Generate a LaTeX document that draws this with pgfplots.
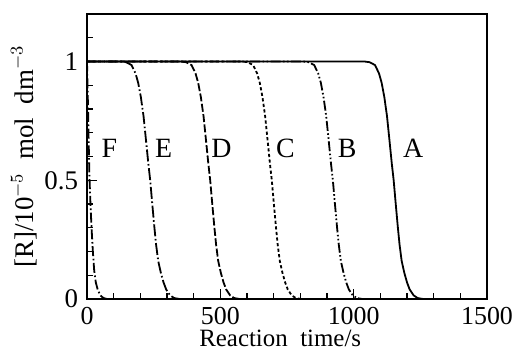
\documentclass[border=0pt]{standalone}
\usepackage{fontspec}
\setmainfont{Liberation Serif}
\usepackage{pgfplots}
\pgfplotsset{compat=1.18}
\begin{document}
\begin{tikzpicture}
\useasboundingbox (-43.5bp,-26bp) rectangle (212.5bp,149.5bp);
\begin{axis}[
  at={(0,0)}, anchor=south west,
  scale only axis, width=200bp, height=142.5bp,
  xmin=0, xmax=1500, ymin=0, ymax=1.2,
  xtick={0,500,1000,1500}, ytick={0,0.5,1},
  minor xtick={100,200,300,400,600,700,800,900,1100,1200,1300,1400},
  minor ytick={0.1,0.2,0.3,0.4,0.6,0.7,0.8,0.9,1.1},
  tick align=inside, xtick pos=bottom, ytick pos=left,
  major tick length=5bp, minor tick length=3bp,
  every tick/.style={black, line width=0.6bp},
  axis line style={line width=0.9bp},
  /pgf/number format/assume math mode=true,
  /pgf/number format/set thousands separator={},
  ticklabel style={font=\fontsize{13.5}{15}\selectfont},
  xticklabel style={inner sep=0bp, anchor=base, yshift=-12.5bp, font=\fontsize{13}{15}\selectfont},
  yticklabel style={/pgf/number format/fixed, xshift=-1bp},
  label style={font=\fontsize{12.5}{15}\selectfont},
  xlabel={Reaction\ \ time/s},
  xlabel style={at={(axis description cs:0.483,0)}, anchor=base, inner sep=0bp, yshift=-23.8bp},
  ylabel={[R]/10$^{-5}$\ \ mol\ \ dm$^{-3}$},
  ylabel style={yshift=-3bp, font=\fontsize{13.5}{15}\selectfont},
  clip=true,
]
% A solid
\addplot[black, no marks, solid, line width=0.9bp] coordinates {(0,1)(1040,1)(1060,0.997)(1080,0.985)(1095,0.95)(1105,0.91)(1115,0.85)(1125,0.77)(1135,0.66)(1143,0.57)(1150,0.5)(1157,0.41)(1165,0.31)(1172,0.23)(1180,0.16)(1190,0.11)(1200,0.07)(1210,0.04)(1225,0.015)(1240,0.004)(1260,0)(1280,0)};
% B dash dot dot
\addplot[black, no marks, line width=0.9bp, dash pattern=on 5bp off 1.2bp on 0.8bp off 1.2bp on 0.8bp off 1.2bp] coordinates {(0,1)(812,1)(832,0.997)(852,0.985)(867,0.95)(877,0.91)(887,0.85)(897,0.77)(907,0.66)(915,0.57)(922,0.5)(929,0.41)(937,0.31)(944,0.23)(952,0.16)(962,0.11)(972,0.07)(982,0.04)(997,0.015)(1012,0.004)(1032,0)};
% C short dashes
\addplot[black, no marks, line width=0.9bp, dash pattern=on 1.6bp off 1.2bp] coordinates {(0,1)(583,1)(603,0.997)(623,0.985)(638,0.95)(648,0.91)(658,0.85)(668,0.77)(678,0.66)(686,0.57)(693,0.5)(700,0.41)(708,0.31)(715,0.23)(723,0.16)(733,0.11)(743,0.07)(753,0.04)(768,0.015)(783,0.004)(803,0)};
% D dashed
\addplot[black, no marks, line width=0.9bp, dash pattern=on 4bp off 1.2bp] coordinates {(0,1)(352,1)(372,0.997)(392,0.985)(407,0.95)(417,0.91)(427,0.85)(437,0.77)(447,0.66)(455,0.57)(462,0.5)(469,0.41)(477,0.31)(484,0.23)(492,0.16)(502,0.11)(512,0.07)(522,0.04)(537,0.015)(552,0.004)(572,0)};
% E dash dot
\addplot[black, no marks, line width=0.9bp, dash pattern=on 6bp off 1.3bp on 0.8bp off 1.3bp] coordinates {(0,1)(127,1)(147,0.997)(167,0.985)(182,0.95)(192,0.91)(202,0.85)(212,0.77)(222,0.66)(230,0.57)(237,0.5)(244,0.41)(252,0.31)(259,0.23)(267,0.16)(277,0.11)(287,0.07)(297,0.04)(312,0.015)(327,0.004)(347,0)};
% F dash dot
\addplot[black, no marks, line width=0.9bp, dash pattern=on 5bp off 1.3bp on 0.8bp off 1.3bp] coordinates {(0,1)(3,0.85)(6,0.68)(9,0.52)(13,0.4)(17,0.3)(22,0.2)(27,0.12)(33,0.07)(40,0.04)(50,0.015)(62,0.004)(75,0)};
\node[font=\fontsize{14}{16}\selectfont] at (axis cs:84,0.635) {F};
\node[font=\fontsize{14}{16}\selectfont] at (axis cs:287,0.635) {E};
\node[font=\fontsize{14}{16}\selectfont] at (axis cs:504,0.635) {D};
\node[font=\fontsize{14}{16}\selectfont] at (axis cs:744,0.635) {C};
\node[font=\fontsize{14}{16}\selectfont] at (axis cs:976,0.635) {B};
\node[font=\fontsize{14}{16}\selectfont] at (axis cs:1223,0.635) {A};
\end{axis}
\end{tikzpicture}
\end{document}
